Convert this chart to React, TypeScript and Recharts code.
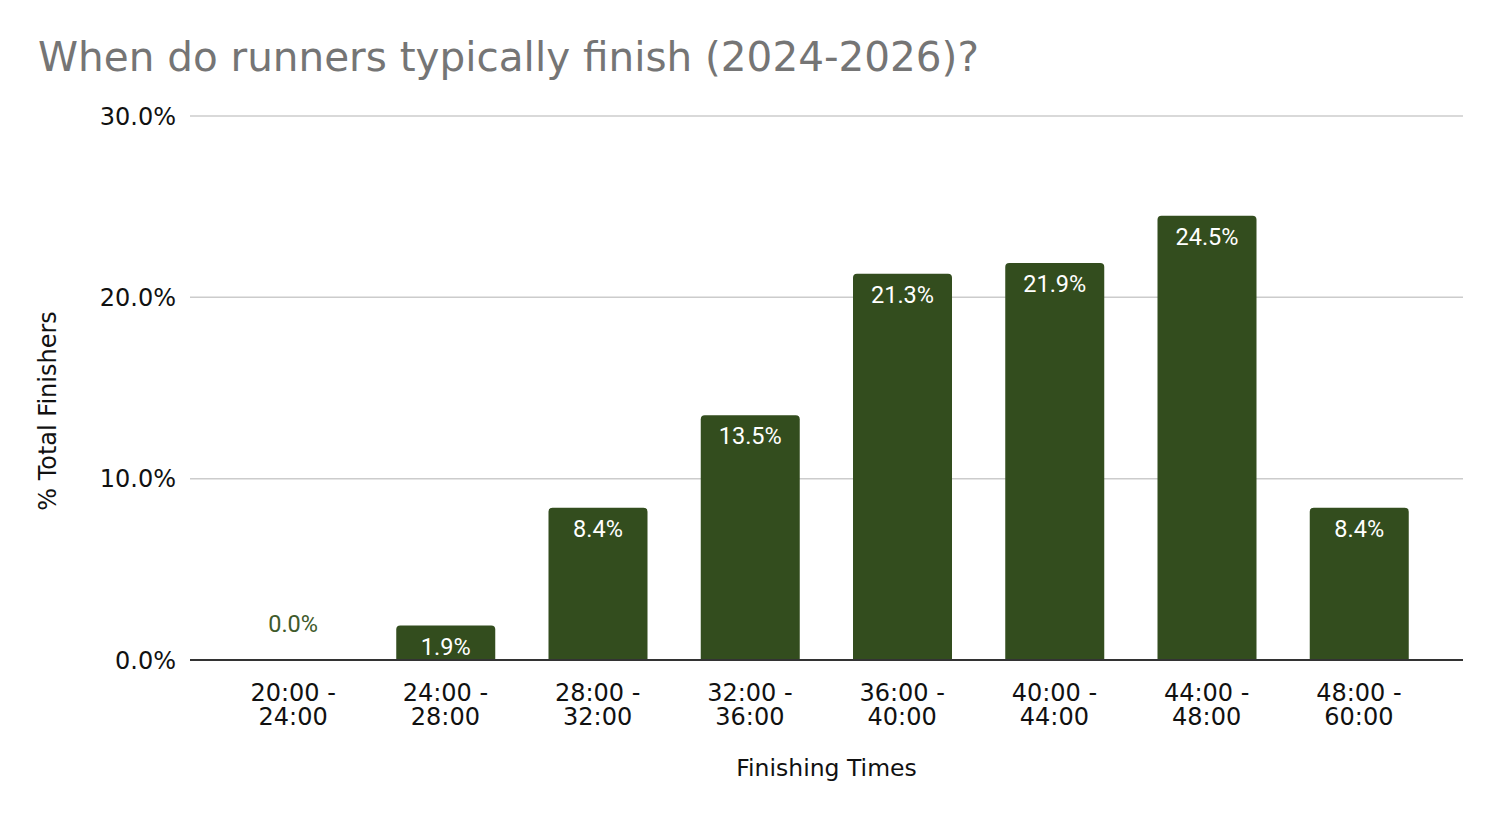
import React from 'react';
import { BarChart, Bar, XAxis, YAxis, CartesianGrid, LabelList, ReferenceDot } from 'recharts';

const categories = ['20:00 - 24:00', '24:00 - 28:00', '28:00 - 32:00', '32:00 - 36:00', '36:00 - 40:00', '40:00 - 44:00', '44:00 - 48:00', '48:00 - 60:00'];
const shares = [0.0, 1.9, 8.4, 13.5, 21.3, 21.9, 24.5, 8.4];
const yTicks = [0, 10, 20, 30];

const data = categories.map((c, i) => ({ range: c, share: shares[i] }));

const BAR = '#334d1e';
const TICK_FONT = '"DejaVu Sans", Verdana, sans-serif';
const LABEL_FONT = 'Roboto, sans-serif';
const fmt = (v: number) => Number(v).toFixed(1) + '%';

const XTick = (props: any) => {
  const { x, y, payload } = props;
  const parts = String(payload.value).split(' - ');
  return (
    <text x={x} y={y} textAnchor="middle" fontFamily={TICK_FONT} fontSize={24} fill="#111">
      <tspan x={x} y={y + 33}>{parts[0] + ' -'}</tspan>
      <tspan x={x} y={y + 57}>{parts[1]}</tspan>
    </text>
  );
};

const BarLabel = (props: any) => {
  const { x, y, width, value } = props;
  if (!value) return null;
  const cx = x + width / 2;
  return (
    <text x={cx} y={y + 29} textAnchor="middle" fontFamily={LABEL_FONT} fontSize={23.5} fill="#ffffff">
      {fmt(value)}
    </text>
  );
};

const ZeroLabel = (value: number) => (p: any) => {
  const vb = p.viewBox || {};
  const cx = vb.x + (vb.width || 0) / 2;
  return (
    <text x={cx} y={vb.y - 28} textAnchor="middle" fontFamily={LABEL_FONT} fontSize={23.5} fill="#3e5a2b">
      {fmt(value)}
    </text>
  );
};

export default function App() {
  return (
    <div style={{ position: 'absolute', left: 0, top: 0, width: 1498, height: 816, background: '#fff' }}>
      <div
        style={{
          position: 'absolute',
          left: 38,
          top: 32,
          fontFamily: TICK_FONT,
          fontSize: 40.5,
          color: '#757575',
          whiteSpace: 'nowrap',
          lineHeight: '50px',
        }}
      >
        When do runners typically finish (2024-2026)?
      </div>
      <BarChart
        width={1498}
        height={816}
        data={data}
        margin={{ top: 116, right: 35, bottom: 56, left: 0 }}
      >
        <CartesianGrid vertical={false} stroke="#cccccc" strokeWidth={1.5} />
        <XAxis
          dataKey="range"
          height={100}
          interval={0}
          padding={{ left: 27, right: 28 }}
          tickLine={false}
          axisLine={{ stroke: '#333333', strokeWidth: 2 }}
          tick={<XTick />}
          label={(p: any) => {
            const vb = p.viewBox;
            return (
              <text x={vb.x + vb.width / 2} y={776} textAnchor="middle" fontFamily={TICK_FONT} fontSize={23.5} fill="#111">
                Finishing Times
              </text>
            );
          }}
        />
        <YAxis
          width={190}
          domain={[0, 30]}
          ticks={yTicks}
          tickFormatter={(v: number) => v.toFixed(1) + '%'}
          axisLine={false}
          tickLine={false}
          tickSize={6}
          tickMargin={8}
          tick={{ fontFamily: TICK_FONT, fontSize: 24, fill: '#111' }}
          label={() => (
            <text
              x={56}
              y={411}
              transform="rotate(-90 56 411)"
              textAnchor="middle"
              fontFamily={TICK_FONT}
              fontSize={24}
              fill="#111"
            >
              % Total Finishers
            </text>
          )}
        />
        <Bar dataKey="share" fill={BAR} barSize={99} radius={[4, 4, 0, 0]} isAnimationActive={false}>
          <LabelList dataKey="share" content={<BarLabel />} />
        </Bar>
        {data
          .filter((d) => d.share === 0)
          .map((d) => (
            <ReferenceDot
              key={d.range}
              x={d.range}
              y={d.share}
              r={0}
              fill="none"
              stroke="none"
              label={ZeroLabel(d.share)}
            />
          ))}
      </BarChart>
    </div>
  );
}
